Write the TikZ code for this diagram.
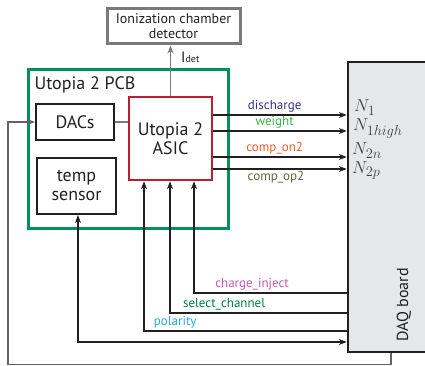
\documentclass[tikz,border=0pt]{standalone}
\usepackage{fontspec}
\setmainfont{PT Sans}
\usetikzlibrary{arrows.meta, positioning, calc}
\definecolor{ink}{HTML}{231F20}
\definecolor{pcbgreen}{HTML}{00915A}
\definecolor{asicred}{HTML}{BE1E2D}
\definecolor{daqfill}{HTML}{E6E7E8}
\definecolor{detgray}{HTML}{7A7A7A}
\definecolor{c_dis}{HTML}{2E3192}
\definecolor{c_wgt}{HTML}{39B54A}
\definecolor{c_on}{HTML}{F15A29}
\definecolor{c_op}{HTML}{5C6637}
\definecolor{c_inj}{HTML}{C659A8}
\definecolor{c_sel}{HTML}{007A45}
\definecolor{c_pol}{HTML}{27AAE1}
% counter name with a large subscript
\newcommand{\counterN}[1]{$N_{\mbox{\fontsize{14}{14}\selectfont$#1$}}$}
\tikzset{
    >={Stealth[length=8pt, width=6pt]},
    block/.style={draw=ink, line width=2pt, text=ink, align=center,
        font=\fontsize{18}{19}\selectfont},
    sig/.style={->, ink, line width=1.1pt},
    wire/.style={line width=1.1pt},
    siglab/.style={font=\fontsize{13}{14}\selectfont, inner sep=2pt},
    nlab/.style={anchor=base west, text=ink!85, inner sep=0pt,
        font=\fontsize{19}{20}\selectfont}
}

\begin{document}
\begin{tikzpicture}[x=1pt, y=-1pt]
    \clip (0,0) rectangle (425,366);
    % Detector
    \node[draw=detgray, line width=3pt, minimum width=133pt, minimum height=35pt,
        align=center, text=ink, font=\fontsize{14}{15}\selectfont] (det) at (173.5,26.5)
        {Ionization chamber\\detector};
    % PCB with its parts
    \node[draw=pcbgreen, line width=3pt, minimum width=200pt, minimum height=158pt] (pcb) at (128,149) {};
    \node[anchor=west, text=ink, font=\fontsize{18}{19}\selectfont] (pcbname) at (31,85) {Utopia 2 PCB};
    \node[block, minimum width=78pt, minimum height=36pt] (dacs) at (75,122) {DACs};
    \node[block, minimum width=79pt, minimum height=56pt] (temp) at (76.5,186) {temp\\sensor};
    \node[block, draw=asicred, line width=2.5pt, minimum width=83pt, minimum height=83pt] (asic) at (170.5,138.5) {Utopia 2\\ASIC};
    % DAQ board
    \node[draw=ink, fill=daqfill, line width=2.5pt, minimum width=84pt, minimum height=290pt] (daq) at (390,207) {};
    \node[rotate=90, text=ink, font=\fontsize{16}{17}\selectfont] (daqname) at (404,305) {DAQ board};
    % Counter names on the DAQ side
    \node[nlab] (n1) at (354,112) {\counterN{1}};
    \node[nlab] (n1h) at (353,131) {\counterN{1high}};
    \node[nlab] (n2n) at (352,155) {\counterN{2n}};
    \node[nlab] (n2p) at (352,173) {\counterN{2p}};

    % current to the detector
    \draw[->, detgray, line width=1.1pt] (asic.north) -- (asic.north |- det.south);
    \node[anchor=base west, inner sep=0pt, text=ink] (idet) at (181,63)
        {\fontsize{15}{15}\selectfont I\fontsize{10}{10}\selectfont det};
    \draw[wire, detgray] (dacs.east) -- (asic.west |- dacs.east);

    % ASIC outputs
    \draw[sig] (asic.east |- 0,115) -- (daq.west |- 0,115) node[siglab, pos=0.46, above, text=c_dis] {discharge};
    \draw[sig] (asic.east |- 0,131) -- (daq.west |- 0,131) node[siglab, pos=0.46, above, text=c_wgt] {weight};
    \draw[sig] (asic.east |- 0,157) -- (daq.west |- 0,157) node[siglab, pos=0.46, above, text=c_on] {comp\_on2};
    \draw[sig] (asic.east |- 0,169) -- (daq.west |- 0,169) node[siglab, pos=0.47, below, text=c_op] {comp\_op2};

    % control lines from the DAQ
    \coordinate (inj) at (194,293);
    \coordinate (sel) at (170,313);
    \coordinate (pol) at (144,331);
    \coordinate (tmp) at (78,342);
    \draw[sig] (daq.west |- inj) -| (asic.south -| inj) node[siglab, pos=0.31, above, text=c_inj] {charge\_inject};
    \draw[sig] (daq.west |- sel) -| (asic.south -| sel) node[siglab, pos=0.347, above, text=c_sel] {select\_channel};
    \draw[sig] (daq.west |- pol) -| (asic.south -| pol) node[siglab, pos=0.423, above, text=c_pol] {polarity};
    \draw[sig, <->] (temp.south -| tmp) |- (daq.west |- tmp);

    % DAC feed round the bottom
    \coordinate (fbr) at (391,364.5);
    \coordinate (fbl) at (8,364.5);
    \draw[sig, ink!70] (daq.south -| fbr) -- (fbr) -- (fbl) |- (dacs.west);
\end{tikzpicture}
\end{document}
